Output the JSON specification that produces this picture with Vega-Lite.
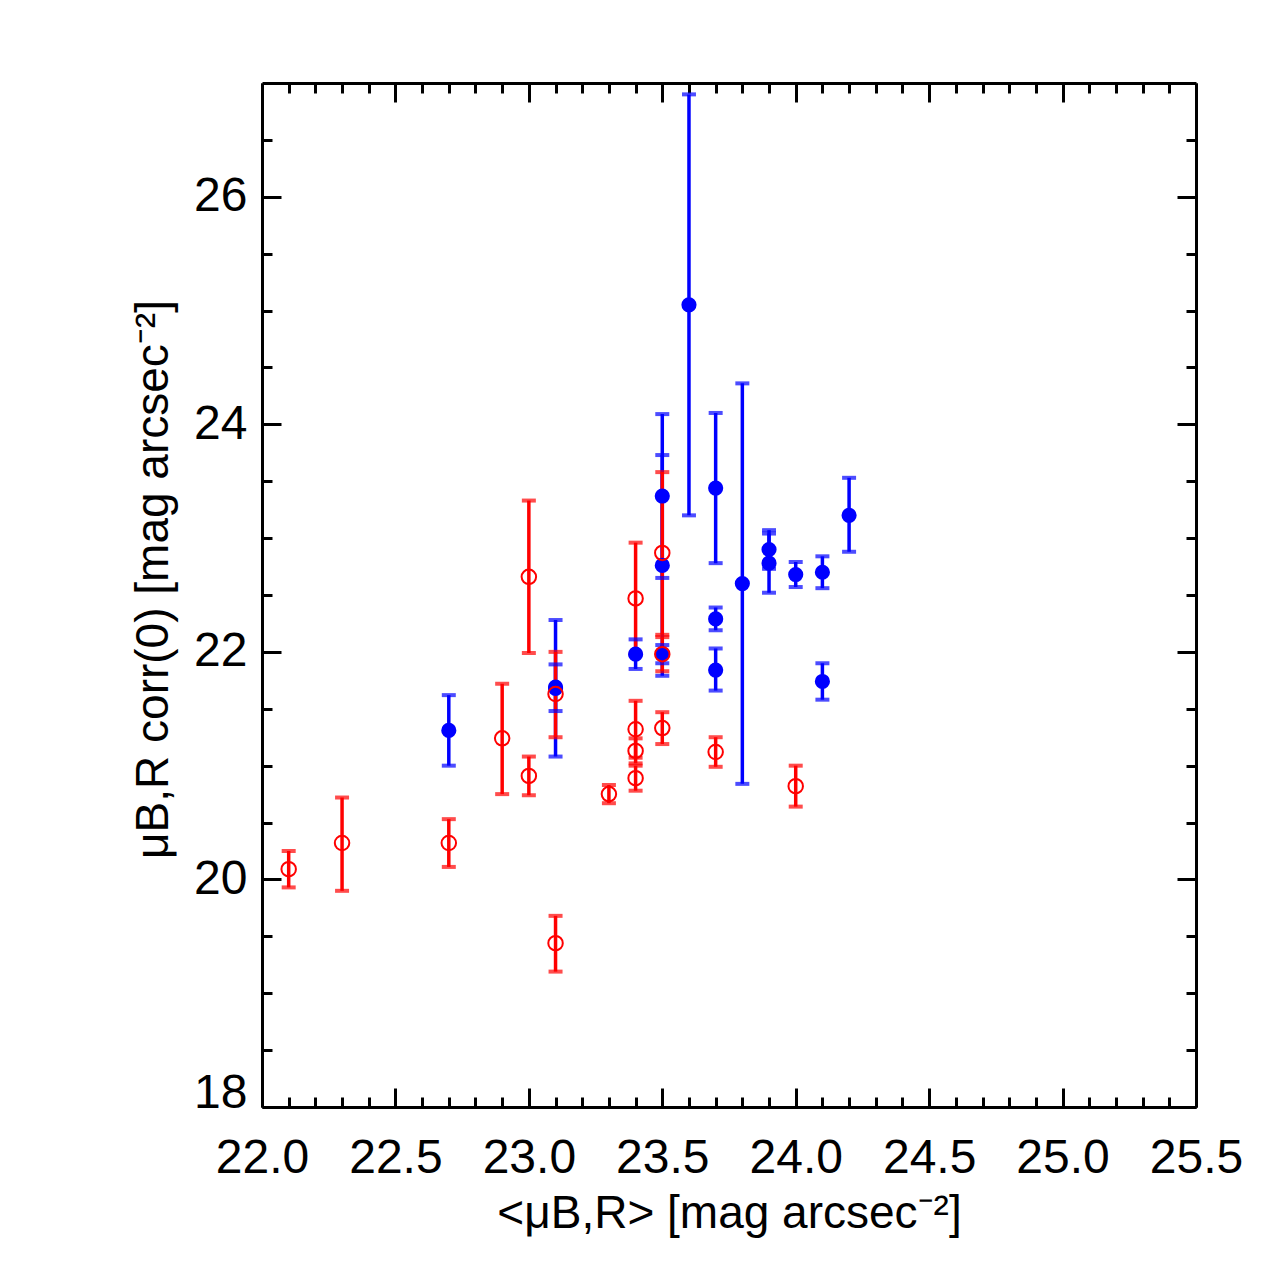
{
  "$schema": "https://vega.github.io/schema/vega-lite/v6.json",
  "width": 934,
  "height": 1024,
  "autosize": {"type": "none"},
  "padding": {"left": 262, "top": 83, "right": 79, "bottom": 168},
  "background": "white",
  "data": {
    "values": [
      {"x": 22.7, "y": 21.31, "lo": 21.00, "hi": 21.62, "g": "blue"},
      {"x": 23.1, "y": 21.68, "lo": 21.08, "hi": 22.28, "g": "blue"},
      {"x": 23.1, "y": 21.69, "lo": 21.48, "hi": 21.89, "g": "blue"},
      {"x": 23.4, "y": 21.98, "lo": 21.85, "hi": 22.11, "g": "blue"},
      {"x": 23.5, "y": 23.37, "lo": 22.65, "hi": 24.09, "g": "blue"},
      {"x": 23.5, "y": 22.76, "lo": 21.79, "hi": 23.73, "g": "blue"},
      {"x": 23.5, "y": 21.98, "lo": 21.90, "hi": 22.06, "g": "blue"},
      {"x": 23.6, "y": 25.05, "lo": 23.20, "hi": 26.90, "g": "blue"},
      {"x": 23.7, "y": 23.44, "lo": 22.78, "hi": 24.10, "g": "blue"},
      {"x": 23.7, "y": 22.29, "lo": 22.19, "hi": 22.39, "g": "blue"},
      {"x": 23.7, "y": 21.84, "lo": 21.66, "hi": 22.03, "g": "blue"},
      {"x": 23.8, "y": 22.60, "lo": 20.84, "hi": 24.36, "g": "blue"},
      {"x": 23.9, "y": 22.90, "lo": 22.73, "hi": 23.07, "g": "blue"},
      {"x": 23.9, "y": 22.78, "lo": 22.52, "hi": 23.04, "g": "blue"},
      {"x": 24.0, "y": 22.68, "lo": 22.57, "hi": 22.79, "g": "blue"},
      {"x": 24.1, "y": 22.70, "lo": 22.56, "hi": 22.84, "g": "blue"},
      {"x": 24.1, "y": 21.74, "lo": 21.58, "hi": 21.90, "g": "blue"},
      {"x": 24.2, "y": 23.20, "lo": 22.88, "hi": 23.53, "g": "blue"},
      {"x": 22.1, "y": 20.09, "lo": 19.93, "hi": 20.25, "g": "red"},
      {"x": 22.3, "y": 20.32, "lo": 19.90, "hi": 20.72, "g": "red"},
      {"x": 22.7, "y": 20.32, "lo": 20.11, "hi": 20.53, "g": "red"},
      {"x": 22.9, "y": 21.24, "lo": 20.75, "hi": 21.72, "g": "red"},
      {"x": 23.0, "y": 22.66, "lo": 21.99, "hi": 23.33, "g": "red"},
      {"x": 23.0, "y": 20.91, "lo": 20.74, "hi": 21.08, "g": "red"},
      {"x": 23.1, "y": 21.63, "lo": 21.25, "hi": 22.00, "g": "red"},
      {"x": 23.1, "y": 19.44, "lo": 19.19, "hi": 19.68, "g": "red"},
      {"x": 23.3, "y": 20.75, "lo": 20.67, "hi": 20.83, "g": "red"},
      {"x": 23.4, "y": 22.47, "lo": 21.98, "hi": 22.96, "g": "red"},
      {"x": 23.4, "y": 21.32, "lo": 21.07, "hi": 21.57, "g": "red"},
      {"x": 23.4, "y": 21.13, "lo": 21.02, "hi": 21.24, "g": "red"},
      {"x": 23.4, "y": 20.89, "lo": 20.78, "hi": 21.00, "g": "red"},
      {"x": 23.5, "y": 22.87, "lo": 22.15, "hi": 23.58, "g": "red"},
      {"x": 23.5, "y": 21.98, "lo": 21.83, "hi": 22.13, "g": "red"},
      {"x": 23.5, "y": 21.33, "lo": 21.19, "hi": 21.47, "g": "red"},
      {"x": 23.7, "y": 21.12, "lo": 20.99, "hi": 21.25, "g": "red"},
      {"x": 24.0, "y": 20.82, "lo": 20.64, "hi": 21.00, "g": "red"}
    ]
  },
  "layer": [
    {
      "mark": {"type": "rule", "strokeWidth": 3.5},
      "encoding": {
        "x": {
          "field": "x", "type": "quantitative",
          "scale": {"domain": [22, 25.5], "nice": false, "zero": false},
          "axis": {
            "orient": "bottom",
            "values": [22, 22.5, 23, 23.5, 24, 24.5, 25, 25.5],
            "format": ".1f",
            "ticks": false,
            "grid": false,
            "domain": true, "domainWidth": 3, "domainColor": "black",
            "labelFont": "Liberation Sans", "labelFontSize": 48, "labelColor": "black",
            "labelPadding": 27, "labelOverlap": false, "labelFlush": false,
            "title": "<μB,R> [mag arcsec⁻²]",
            "titleFont": "Liberation Sans", "titleFontSize": 46, "titleFontWeight": "normal", "titleColor": "black",
            "titleX": 467, "titleY": 120, "titleAlign": "center", "titleBaseline": "alphabetic"
          }
        },
        "y": {
          "field": "lo", "type": "quantitative",
          "scale": {"domain": [18, 27], "nice": false, "zero": false},
          "axis": {
            "orient": "left",
            "values": [18, 20, 22, 24, 26],
            "ticks": false,
            "grid": false,
            "domain": true, "domainWidth": 3, "domainColor": "black",
            "labelFont": "Liberation Sans", "labelFontSize": 48, "labelColor": "black",
            "labelPadding": 15, "labelFlush": true, "labelFlushOffset": 10, "labelOverlap": false,
            "title": "μB,R corr(0) [mag arcsec⁻²]",
            "titleFont": "Liberation Sans", "titleFontSize": 46, "titleFontWeight": "normal", "titleColor": "black",
            "titleAngle": -90, "titleX": -95, "titleY": 496, "titleAlign": "center", "titleBaseline": "alphabetic"
          }
        },
        "y2": {"field": "hi"},
        "color": {
          "field": "g", "type": "nominal",
          "scale": {"domain": ["blue", "red"], "range": ["#0000ff", "#ff0000"]},
          "legend": null
        }
      }
    },
    {
      "mark": {"type": "tick", "orient": "horizontal", "size": 14, "thickness": 4},
      "encoding": {
        "x": {
          "field": "x", "type": "quantitative",
          "axis": {
            "orient": "bottom", "values": [22, 22.5, 23, 23.5, 24, 24.5, 25, 25.5],
            "labels": false, "domain": false, "grid": false, "title": null,
            "tickSize": -19, "tickWidth": 3, "tickColor": "black"
          }
        },
        "y": {
          "field": "hi", "type": "quantitative",
          "axis": {
            "orient": "left", "values": [18, 20, 22, 24, 26],
            "labels": false, "domain": false, "grid": false, "title": null,
            "tickSize": -19, "tickWidth": 3, "tickColor": "black"
          }
        },
        "color": {"field": "g", "type": "nominal", "legend": null}
      }
    },
    {
      "mark": {"type": "tick", "orient": "horizontal", "size": 14, "thickness": 4},
      "encoding": {
        "x": {
          "field": "x", "type": "quantitative",
          "axis": {
            "orient": "bottom",
            "values": [22.1, 22.2, 22.3, 22.4, 22.6, 22.7, 22.8, 22.9, 23.1, 23.2, 23.3, 23.4, 23.6, 23.7, 23.8, 23.9, 24.1, 24.2, 24.3, 24.4, 24.6, 24.7, 24.8, 24.9, 25.1, 25.2, 25.3, 25.4],
            "labels": false, "domain": false, "grid": false, "title": null,
            "tickSize": -10, "tickWidth": 3, "tickColor": "black"
          }
        },
        "y": {
          "field": "lo", "type": "quantitative",
          "axis": {
            "orient": "left",
            "values": [18.5, 19, 19.5, 20.5, 21, 21.5, 22.5, 23, 23.5, 24.5, 25, 25.5, 26.5],
            "labels": false, "domain": false, "grid": false, "title": null,
            "tickSize": -10, "tickWidth": 3, "tickColor": "black"
          }
        },
        "color": {"field": "g", "type": "nominal", "legend": null}
      }
    },
    {
      "transform": [{"filter": "datum.g === 'blue'"}],
      "mark": {"type": "point", "shape": "circle", "filled": true, "size": 230, "opacity": 1},
      "encoding": {
        "x": {
          "field": "x", "type": "quantitative",
          "axis": {
            "orient": "top", "values": [22, 22.5, 23, 23.5, 24, 24.5, 25, 25.5],
            "labels": false, "grid": false, "title": null,
            "domain": true, "domainWidth": 3, "domainColor": "black",
            "tickSize": -19, "tickWidth": 3, "tickColor": "black"
          }
        },
        "y": {
          "field": "y", "type": "quantitative",
          "axis": {
            "orient": "right", "values": [18, 20, 22, 24, 26],
            "labels": false, "grid": false, "title": null,
            "domain": true, "domainWidth": 3, "domainColor": "black",
            "tickSize": -19, "tickWidth": 3, "tickColor": "black"
          }
        },
        "color": {"field": "g", "type": "nominal", "legend": null}
      }
    },
    {
      "transform": [{"filter": "datum.g === 'red'"}],
      "mark": {"type": "point", "shape": "circle", "filled": false, "size": 210, "strokeWidth": 2, "opacity": 1},
      "encoding": {
        "x": {
          "field": "x", "type": "quantitative",
          "axis": {
            "orient": "top",
            "values": [22.1, 22.2, 22.3, 22.4, 22.6, 22.7, 22.8, 22.9, 23.1, 23.2, 23.3, 23.4, 23.6, 23.7, 23.8, 23.9, 24.1, 24.2, 24.3, 24.4, 24.6, 24.7, 24.8, 24.9, 25.1, 25.2, 25.3, 25.4],
            "labels": false, "domain": false, "grid": false, "title": null,
            "tickSize": -10, "tickWidth": 3, "tickColor": "black"
          }
        },
        "y": {
          "field": "y", "type": "quantitative",
          "axis": {
            "orient": "right",
            "values": [18.5, 19, 19.5, 20.5, 21, 21.5, 22.5, 23, 23.5, 24.5, 25, 25.5, 26.5],
            "labels": false, "domain": false, "grid": false, "title": null,
            "tickSize": -10, "tickWidth": 3, "tickColor": "black"
          }
        },
        "color": {"field": "g", "type": "nominal", "legend": null}
      }
    }
  ],
  "resolve": {"axis": {"x": "independent", "y": "independent"}},
  "config": {"view": {"stroke": null}}
}
